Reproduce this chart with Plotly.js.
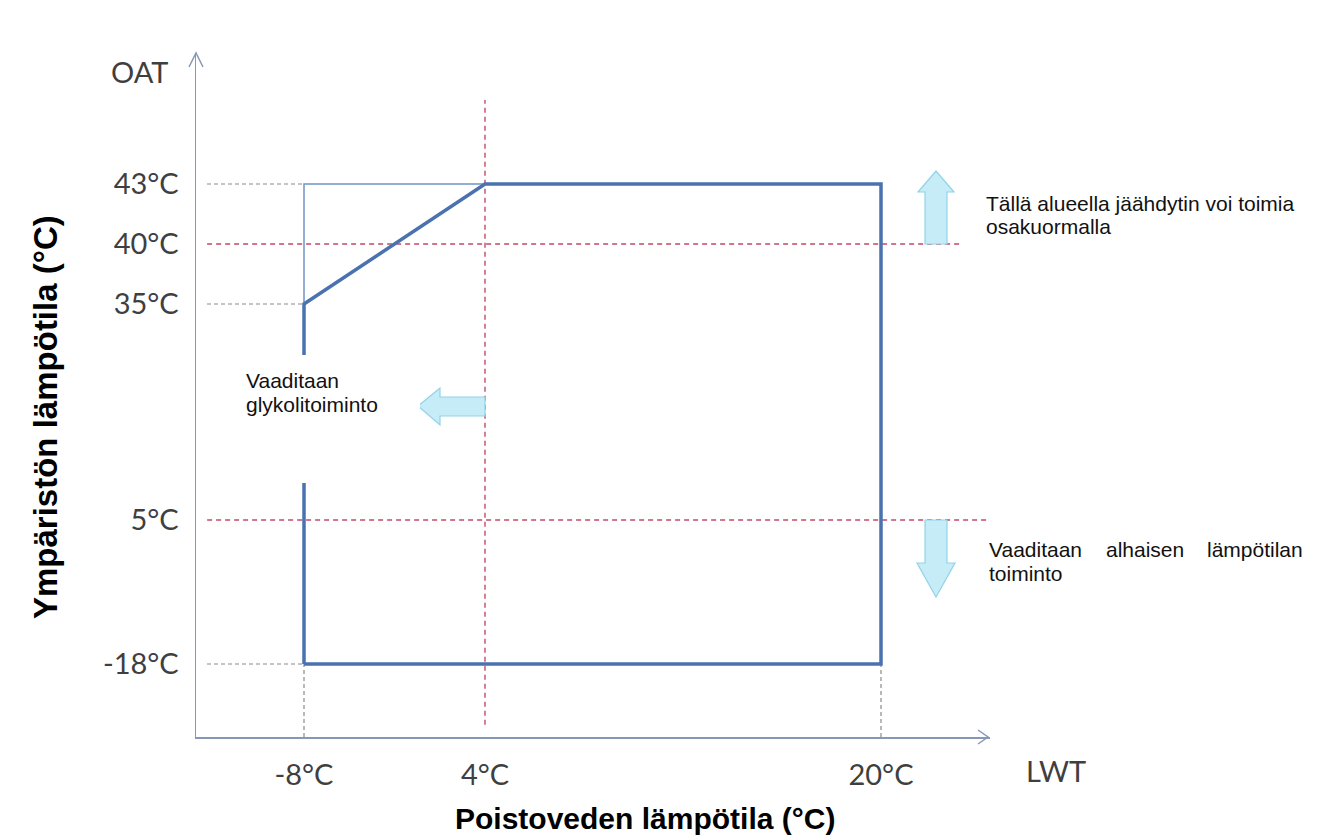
<!DOCTYPE html>
<html>
<head>
<meta charset="utf-8">
<script src="https://cdn.plot.ly/plotly-3.0.1.min.js"></script>
<style>html,body{margin:0;padding:0;background:#fff;}#chart{width:1325px;height:839px;}</style>
</head>
<body>
<div id="chart"></div>
<script>
// ---------- data (°C) ----------
const LWT_TICKS = [-8, 4, 20];
const LWT_LABELS = ['-8°C', '4°C', '20°C'];
const OAT_TICKS = [-18, 5, 35, 40, 43];
const OAT_LABELS = ['-18°C', '5°C', '35°C', '40°C', '43°C'];
// operating envelope (thick line)
const ENV_LWT = [-8, -8, 4, 20, 20, -8];
const ENV_OAT = [-18, 35, 43, 43, -18, -18];
// thin outer corner
const CORNER_LWT = [-8, -8, 4];
const CORNER_OAT = [35, 43, 43];
// limit lines
const LIMIT_LWT = [4];
const LIMIT_OAT = [40, 5];
// guide lines to the axes
const GUIDE_OAT = [43, 35, -18];
const GUIDE_LWT = [-8, 20];

// ---------- schematic (non-linear) axis scale ----------
const X_POS = [108, 289, 685];            // axis-unit positions of LWT_TICKS
const Y_POS = [73, 217, 433, 493, 553];   // axis-unit positions of OAT_TICKS
function interp(v, c, u) {
  let i = 0;
  while (i < c.length - 2 && v > c[i + 1]) i++;
  return u[i] + (v - c[i]) * (u[i + 1] - u[i]) / (c[i + 1] - c[i]);
}
const sx = v => interp(v, LWT_TICKS, X_POS);
const sy = v => interp(v, OAT_TICKS, Y_POS);

const W = 1325, H = 839;
const M = {l: 196, r: 335, t: 55, b: 102};
const PW = W - M.l - M.r, PH = H - M.t - M.b;
const px = p => (p - M.l) / PW;      // page px -> paper x
const py = p => (H - M.b - p) / PH;  // page py -> paper y

const BLUE = '#4a72b0', THIN = '#7094c6', RED = '#c24a68', GREY = '#8a8a8a', AXIS = '#8798b6';
const ARROW_FILL = '#c6ecf8', ARROW_LINE = '#92d3e8';

const traces = [
  {x: CORNER_LWT.map(sx), y: CORNER_OAT.map(sy), mode: 'lines', line: {color: THIN, width: 1.5}, hoverinfo: 'skip'},
  {x: ENV_LWT.map(sx), y: ENV_OAT.map(sy), mode: 'lines', line: {color: BLUE, width: 3.5}, hoverinfo: 'skip'}
];

const shapes = [];
const PAD = 11;
GUIDE_OAT.forEach(t => shapes.push({type: 'line', xref: 'x', yref: 'y', x0: PAD, x1: sx(-8), y0: sy(t), y1: sy(t),
  line: {color: GREY, width: 1.2, dash: '4px,3px'}, layer: 'below'}));
GUIDE_LWT.forEach(t => shapes.push({type: 'line', xref: 'x', yref: 'y', x0: sx(t), x1: sx(t), y0: 0, y1: sy(-18),
  line: {color: GREY, width: 1.2, dash: '4px,3px'}, layer: 'below'}));
LIMIT_LWT.forEach(t => shapes.push({type: 'line', xref: 'x', yref: 'paper', x0: sx(t), x1: sx(t), y0: 0.018, y1: 0.934,
  line: {color: RED, width: 1.4, dash: '5px,4px'}, layer: 'below'}));
shapes.push({type: 'line', xref: 'paper', yref: 'y', x0: 0.014, x1: 0.965, y0: sy(LIMIT_OAT[0]), y1: sy(LIMIT_OAT[0]),
  line: {color: RED, width: 1.4, dash: '5px,4px'}, layer: 'below'});
shapes.push({type: 'line', xref: 'paper', yref: 'y', x0: 0.014, x1: 0.997, y0: sy(LIMIT_OAT[1]), y1: sy(LIMIT_OAT[1]),
  line: {color: RED, width: 1.4, dash: '5px,4px'}, layer: 'below'});

// axis arrowheads (paper refs so they are not clipped)
shapes.push({type: 'path', xref: 'paper', yref: 'paper', xsizemode: 'pixel', ysizemode: 'pixel', xanchor: 0, yanchor: 1,
  path: 'M -7,-12 L 0,2 L 7,-12', line: {color: AXIS, width: 1.5}});
shapes.push({type: 'path', xref: 'paper', yref: 'paper', xsizemode: 'pixel', ysizemode: 'pixel', xanchor: 1, yanchor: 0,
  path: 'M -12,7 L -2,0 L -12,-7', line: {color: AXIS, width: 1.5}});

// block arrows
shapes.push({type: 'path', xref: 'x', yref: 'y', xsizemode: 'pixel', ysizemode: 'pixel', xanchor: sx(20), yanchor: sy(40),
  path: 'M 44,0 L 66,0 L 66,52 L 73,52 L 55,73 L 37,52 L 44,52 Z', fillcolor: ARROW_FILL, line: {color: ARROW_LINE, width: 1.2}});
shapes.push({type: 'path', xref: 'x', yref: 'y', xsizemode: 'pixel', ysizemode: 'pixel', xanchor: sx(20), yanchor: sy(5),
  path: 'M 44,0 L 66,0 L 66,-43 L 74,-43 L 55,-77 L 36,-43 L 44,-43 Z', fillcolor: ARROW_FILL, line: {color: ARROW_LINE, width: 1.2}});
shapes.push({type: 'path', xref: 'x', yref: 'y', xsizemode: 'pixel', ysizemode: 'pixel', xanchor: sx(4), yanchor: sy(35),
  path: 'M 0,-93 L -45,-93 L -45,-84 L -67,-102 L -45,-121 L -45,-112 L 0,-112 Z', fillcolor: ARROW_FILL, line: {color: ARROW_LINE, width: 1.2}});

// white label box
shapes.push({type: 'rect', xref: 'x', yref: 'y', xsizemode: 'pixel', ysizemode: 'pixel', xanchor: sx(-8), yanchor: sy(35),
  x0: -64, x1: 116, y0: -51, y1: -179, fillcolor: '#ffffff', line: {width: 0}});

const TXT = {family: 'Liberation Sans, Arial, sans-serif', size: 21, color: '#111111'};
const TICKF = {family: 'Lato, Open Sans, sans-serif', size: 29, color: '#3f3f3f'};
function note(text, x, y, xa, font) {
  return {text: text, xref: 'paper', yref: 'paper', x: px(x), y: py(y), xanchor: xa, yanchor: 'middle',
    showarrow: false, font: font || TXT};
}
const annotations = [
  note('Tällä alueella jäähdytin voi toimia', 984, 203, 'left'),
  note('osakuormalla', 984, 226, 'left'),
  note('Vaaditaan', 987, 549, 'left'),
  note('alhaisen', 1145, 549, 'center'),
  note('lämpötilan', 1305, 549, 'right'),
  note('toiminto', 987, 573, 'left'),
  note('Vaaditaan', 244, 380, 'left'),
  note('glykolitoiminto', 244, 404, 'left'),
  note('OAT', 139, 72, 'center', TICKF),
  note('LWT', 1056, 770, 'center', TICKF),
  note('<b>Poistoveden lämpötila (°C)</b>', 645, 819, 'center', {family: 'Liberation Sans, Arial, sans-serif', size: 30, color: '#000'}),
  Object.assign(note('<b>Ympäristön lämpötila (°C)</b>', 45, 417, 'center', {family: 'Liberation Sans, Arial, sans-serif', size: 33, color: '#000'}), {textangle: -90})
];

const layout = {
  width: W, height: H, margin: M, paper_bgcolor: '#fff', plot_bgcolor: '#fff', showlegend: false,
  xaxis: {range: [0, PW], showgrid: false, zeroline: false, showline: true, linecolor: AXIS, linewidth: 1.5,
    tickmode: 'array', tickvals: LWT_TICKS.map(sx), ticktext: LWT_LABELS, ticks: '', tickfont: TICKF,
    ticklabelstandoff: 12, fixedrange: true},
  yaxis: {range: [0, PH], showgrid: false, zeroline: false, showline: true, linecolor: AXIS, linewidth: 1.5,
    tickmode: 'array', tickvals: OAT_TICKS.map(sy), ticktext: OAT_LABELS, ticks: '', tickfont: TICKF,
    ticklabelstandoff: 10, fixedrange: true},
  shapes: shapes, annotations: annotations
};
Plotly.newPlot('chart', traces, layout, {displayModeBar: false, staticPlot: true});
</script>
</body>
</html>
